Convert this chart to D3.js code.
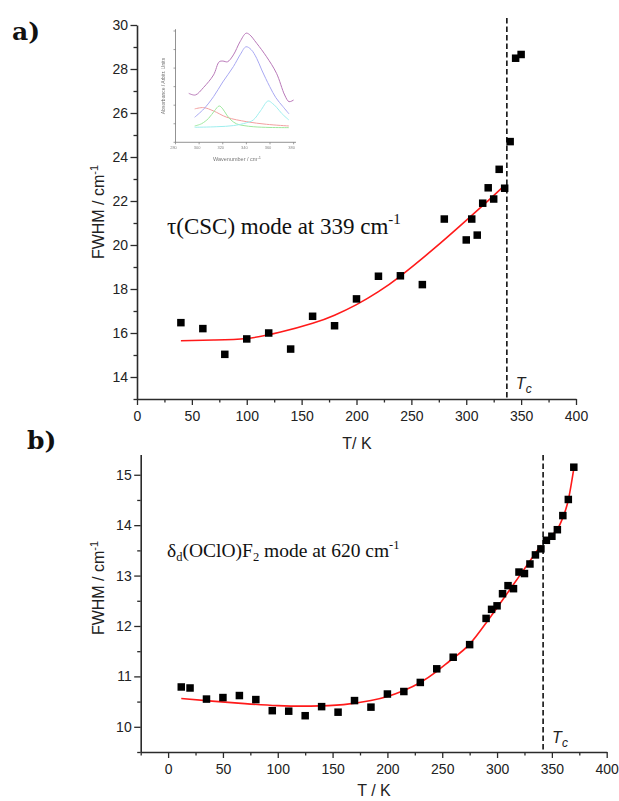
<!DOCTYPE html>
<html>
<head>
<meta charset="utf-8">
<script src="https://cdn.jsdelivr.net/npm/d3@7/dist/d3.min.js"></script>
<style>
  html, body { margin: 0; padding: 0; background: #fff; }
  svg { display: block; }
</style>
</head>
<body>
<svg id="chart" width="619" height="801"></svg>
<script>
// ---- Panel a: tau(CSC) mode at 339 cm-1 ----
const aTemps = [40, 60, 80, 100, 120, 140, 160, 180, 200, 220, 240, 260, 280, 300, 305, 310, 315, 320, 325, 330, 335, 340, 345, 350];
const aFwhm  = [16.47, 16.2, 15.03, 15.73, 16.0, 15.27, 16.76, 16.33, 17.55, 18.58, 18.6, 18.2, 21.18, 20.23, 21.18, 20.45, 21.9, 22.6, 22.09, 23.44, 22.58, 24.7, 28.49, 28.66];
const aFitT  = [40, 70, 100, 130, 160, 180, 200, 220, 240, 270, 300, 320, 335];
const aFitY  = [15.65, 15.68, 15.75, 16.03, 16.44, 16.81, 17.29, 17.88, 18.59, 19.81, 21.12, 22.02, 22.71];
const aTc = 337;
const aXTicks = d3.range(0, 401, 25);
const aYTicks = d3.range(13, 30.01, 1);

// ---- Panel b: delta_d(OClO)F2 mode at 620 cm-1 ----
const bTemps = [12, 20, 35, 50, 65, 80, 95, 110, 125, 140, 155, 170, 185, 200, 215, 230, 245, 260, 275, 290, 295, 300, 305, 310, 315, 320, 325, 330, 335, 340, 345, 350, 355, 360, 365, 370];
const bFwhm  = [10.79, 10.77, 10.55, 10.58, 10.62, 10.54, 10.32, 10.31, 10.22, 10.4, 10.29, 10.52, 10.39, 10.65, 10.7, 10.88, 11.15, 11.38, 11.63, 12.15, 12.33, 12.4, 12.64, 12.8, 12.74, 13.07, 13.04, 13.23, 13.41, 13.53, 13.7, 13.78, 13.91, 14.19, 14.51, 15.15];
const bFit1T = [12, 40, 70, 100, 130, 160, 185, 200, 215, 230, 245, 260, 275, 290, 300, 320, 340];
const bFit1Y = [10.56, 10.51, 10.46, 10.42, 10.41, 10.44, 10.52, 10.6, 10.72, 10.88, 11.1, 11.36, 11.64, 12.06, 12.36, 12.98, 13.6];
const bFit2T = [345, 348, 350, 355, 360, 365, 370];
const bFit2Y = [13.73, 13.76, 13.8, 13.92, 14.15, 14.5, 15.12];
const bTc = 342;
const bXTicks = d3.range(-25, 401, 25);
const bYTicks = d3.range(9.5, 15.01, 0.5);

// ---- Inset: band decomposition around 339 cm-1 ----
const insetSumX  = [291.2, 296.8, 303.8, 312.2, 317.0, 320.1, 324.0, 329.0, 334.6, 339.7, 342.4, 348.7, 357.1, 365.5, 372.4, 376.1, 380.0];
const insetSumY  = [2.64, 2.55, 2.96, 3.63, 4.34, 4.38, 4.34, 4.71, 5.42, 5.88, 5.82, 5.34, 4.61, 3.72, 2.55, 2.19, 2.28];
const insetBlueX = [296.2, 304, 312.2, 320, 329, 335, 339.7, 344, 348.7, 353, 359.8, 365, 371, 376.1];
const insetBlueY = [1.35, 1.8, 2.46, 3.25, 4.08, 4.75, 5.15, 5.0, 4.53, 3.9, 3.0, 2.4, 1.92, 1.53];
const insetGreenX = [296.2, 302, 308, 313, 317, 320, 323.4, 327, 331.8, 338, 345.8, 360, 376];
const insetGreenY = [0.88, 1.0, 1.29, 1.7, 1.96, 1.8, 1.47, 1.2, 0.99, 0.9, 0.84, 0.8, 0.79];
const insetRedX = [296.2, 303.8, 312.2, 323.4, 340.3, 357.1, 376];
const insetRedY = [1.8, 1.87, 1.69, 1.35, 1.11, 0.97, 0.88];
const insetCyanX = [296.2, 315, 329, 340, 345.8, 352, 358.4, 362, 365.5, 370, 376];
const insetCyanY = [0.81, 0.84, 0.9, 1.05, 1.2, 1.7, 2.23, 2.1, 1.89, 1.55, 1.2];
const insetXTicks = [280, 300, 320, 340, 360, 380];
const insetYTicks = [0, 1, 2, 3, 4, 5, 6];

const svg = d3.select("#chart");
const AX = "#2b2b2b";
const SANS = "'Liberation Sans', Arial, sans-serif";
const SERIF = "'Liberation Serif', 'Times New Roman', serif";

function drawPanel(cfg) {
  const g = svg.append("g");
  const x = d3.scaleLinear().domain(cfg.xDomain).range(cfg.xRange);
  const y = d3.scaleLinear().domain(cfg.yDomain).range(cfg.yRange);

  // bottom axis with labelled majors every 50 K and minors in between
  const xAxis = d3.axisBottom(x)
    .tickValues(cfg.xTicks)
    .tickSize(0)
    .tickFormat(d => (d >= 0 && d % 50 === 0) ? d : "");
  const gx = g.append("g").attr("transform", `translate(0,${cfg.yRange[0]})`).call(xAxis);
  gx.select(".domain").attr("stroke", AX).attr("stroke-width", 1.6);
  gx.selectAll(".tick line")
    .attr("stroke", AX).attr("stroke-width", 1.3)
    .attr("y2", d => (d % 50 === 0) ? 6 : 3.5);
  gx.selectAll(".tick text")
    .attr("y", cfg.xLabelDy).attr("dy", "0.35em")
    .attr("fill", "#222").style("font", `14px ${SANS}`);

  // left axis
  const yAxis = d3.axisLeft(y)
    .tickValues(cfg.yTicks)
    .tickSize(0)
    .tickFormat(d => cfg.isMajor(d) ? d3.format("d")(d) : "");
  const gy = g.append("g").attr("transform", `translate(${cfg.xRange[0]},0)`).call(yAxis);
  gy.select(".domain").attr("stroke", AX).attr("stroke-width", 1.6);
  gy.selectAll(".tick line")
    .attr("stroke", AX).attr("stroke-width", 1.3)
    .attr("x2", d => cfg.isMajor(d) ? -6.5 : -3.5);
  gy.selectAll(".tick text")
    .attr("x", -9).attr("fill", "#222").style("font", `14px ${SANS}`);

  // axis titles
  g.append("text")
    .attr("x", cfg.xTitle[0]).attr("y", cfg.xTitle[1])
    .attr("text-anchor", "middle").attr("fill", "#222")
    .style("font", `16px ${SANS}`).text(cfg.xTitleText);
  const yt = g.append("text")
    .attr("transform", `translate(${cfg.yTitle[0]},${cfg.yTitle[1]}) rotate(-90)`)
    .attr("text-anchor", "middle").attr("fill", "#222")
    .style("font", `16px ${SANS}`);
  yt.append("tspan").text("FWHM / cm");
  yt.append("tspan").attr("dy", -6).style("font-size", "11px").text("-1");

  // transition temperature
  g.append("line")
    .attr("x1", x(cfg.tc)).attr("x2", x(cfg.tc))
    .attr("y1", cfg.tcTop).attr("y2", cfg.yRange[0])
    .attr("stroke", "#111").attr("stroke-width", 1.6)
    .attr("stroke-dasharray", "5.5,3");
  const tcl = g.append("text")
    .attr("x", x(cfg.tc) + cfg.tcLabel[0]).attr("y", cfg.tcLabel[1])
    .attr("fill", "#222").style("font", `italic 16px ${SANS}`);
  tcl.append("tspan").text("T");
  tcl.append("tspan").attr("dy", 4).style("font-size", "12px").text("c");

  // fitted curves
  const line = d3.line().x(d => x(d[0])).y(d => y(d[1])).curve(d3.curveNatural);
  cfg.fits.forEach(f => {
    g.append("path")
      .datum(f[0].map((t, i) => [t, f[1][i]]))
      .attr("d", line)
      .attr("fill", "none").attr("stroke", "#ff1a1a").attr("stroke-width", 1.6);
  });

  // measured points
  const s = 7.5;
  g.append("g").selectAll("rect")
    .data(cfg.temps.map((t, i) => [t, cfg.vals[i]]))
    .join("rect")
    .attr("x", d => x(d[0]) - s / 2).attr("y", d => y(d[1]) - s / 2)
    .attr("width", s).attr("height", s).attr("fill", "#000");
  return g;
}

drawPanel({
  xDomain: [0, 400], xRange: [137, 576],
  yDomain: [13, 30], yRange: [399, 25],
  xTicks: aXTicks, yTicks: aYTicks,
  isMajor: d => d % 2 === 0,
  xLabelDy: 17.5,
  xTitle: [357, 449], xTitleText: "T/ K",
  yTitle: [104, 212],
  tc: aTc, tcTop: 18, tcLabel: [9, 389],
  fits: [[aFitT, aFitY]],
  temps: aTemps, vals: aFwhm
});

drawPanel({
  xDomain: [-25, 400], xRange: [140.7, 606.7],
  yDomain: [9.5, 15.4], yRange: [752, 454.6],
  xTicks: bXTicks, yTicks: bYTicks,
  isMajor: d => Number.isInteger(d),
  xLabelDy: 17,
  xTitle: [374, 796], xTitleText: "T / K",
  yTitle: [104, 588],
  tc: bTc, tcTop: 455, tcLabel: [9, 743],
  fits: [[bFit1T, bFit1Y], [bFit2T, bFit2Y]],
  temps: bTemps, vals: bFwhm
});

// panel letters
svg.append("text").attr("x", 12).attr("y", 40)
  .style("font", `bold 25px 'DejaVu Serif', serif`).attr("fill", "#111").text("a)");
svg.append("text").attr("x", 27).attr("y", 449)
  .style("font", `bold 25px 'DejaVu Serif', serif`).attr("fill", "#111").text("b)");

// mode annotations
const ta = svg.append("text").attr("x", 167).attr("y", 234)
  .attr("fill", "#111").style("font", `23px ${SERIF}`);
ta.append("tspan").text("τ(CSC) mode at 339 cm");
ta.append("tspan").attr("dy", -10).style("font-size", "15px").text("-1");

const tb = svg.append("text").attr("x", 167).attr("y", 557)
  .attr("fill", "#111").style("font", `19.5px ${SERIF}`);
tb.append("tspan").text("δ");
tb.append("tspan").attr("dy", 4).style("font-size", "12.5px").text("d");
tb.append("tspan").attr("dy", -4).text("(OClO)F");
tb.append("tspan").attr("dy", 4).style("font-size", "12.5px").text("2");
tb.append("tspan").attr("dy", -4).text(" mode at 620 cm");
tb.append("tspan").attr("dy", -8).style("font-size", "12.5px").text("-1");

// ---- inset spectrum ----
const defs = svg.append("defs");
defs.append("filter").attr("id", "soft")
  .append("feGaussianBlur").attr("stdDeviation", 0.35);

const ins = svg.append("g").attr("filter", "url(#soft)");
const ix = d3.scaleLinear().domain([280, 382]).range([175.5, 296]);
const iy = d3.scaleLinear().domain([0, 6]).range([142.3, 31]);

ins.append("line").attr("x1", ix(280)).attr("x2", ix(382))
  .attr("y1", iy(0)).attr("y2", iy(0)).attr("stroke", "#777").attr("stroke-width", 0.8);
ins.append("line").attr("x1", ix(280)).attr("x2", ix(280))
  .attr("y1", iy(0)).attr("y2", iy(6.1)).attr("stroke", "#777").attr("stroke-width", 0.8);
ins.selectAll(".ixt").data(insetXTicks).join("line")
  .attr("x1", d => ix(d)).attr("x2", d => ix(d))
  .attr("y1", iy(0)).attr("y2", iy(0) + 2)
  .attr("stroke", "#777").attr("stroke-width", 0.7);
ins.selectAll(".ixl").data(insetXTicks).join("text")
  .attr("x", d => ix(d) - 2).attr("y", iy(0) + 7)
  .attr("text-anchor", "middle").attr("fill", "#888")
  .style("font", `4px ${SANS}`).text(d => d);
ins.selectAll(".iyt").data(insetYTicks).join("line")
  .attr("x1", ix(280) - 2).attr("x2", ix(280))
  .attr("y1", d => iy(d)).attr("y2", d => iy(d))
  .attr("stroke", "#777").attr("stroke-width", 0.7);
const ixl = ins.append("text").attr("x", 237).attr("y", 161)
  .attr("text-anchor", "middle").attr("fill", "#777")
  .style("font", `5.5px ${SANS}`);
ixl.append("tspan").text("Wavenumber  /  cm");
ixl.append("tspan").attr("dy", -2).style("font-size", "4px").text("-1");
ins.append("text")
  .attr("transform", `translate(165,86) rotate(-90)`)
  .attr("text-anchor", "middle").attr("fill", "#777")
  .style("font", `5px ${SANS}`).text("Absorbance / Arbitr. Units");

const iline = d3.line().x(d => ix(d[0])).y(d => iy(d[1])).curve(d3.curveCatmullRom);
[
  [insetRedX, insetRedY, "#f2a0a0"],
  [insetGreenX, insetGreenY, "#9ee89e"],
  [insetCyanX, insetCyanY, "#9eeeee"],
  [insetBlueX, insetBlueY, "#a8a8f2"],
  [insetSumX, insetSumY, "#b878b8"]
].forEach(c => {
  ins.append("path")
    .datum(c[0].map((v, i) => [v, c[1][i]]))
    .attr("d", iline)
    .attr("fill", "none").attr("stroke", c[2]).attr("stroke-width", 1);
});
</script>
</body>
</html>
